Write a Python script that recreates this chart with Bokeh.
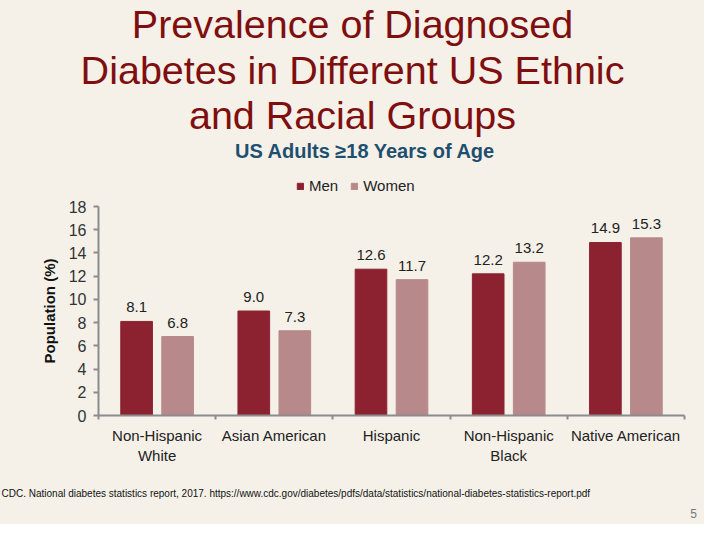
import numpy as np
from bokeh.plotting import figure
from bokeh.layouts import column
from bokeh.models import (Range1d, FixedTicker, Legend, LegendItem,
                          ColumnDataSource)
from bokeh.embed import file_html
from bokeh.resources import INLINE

# ---------------- data ----------------
categories = ["Non-Hispanic\nWhite", "Asian American", "Hispanic",
              "Non-Hispanic\nBlack", "Native American"]
men = [8.1, 9.0, 12.6, 12.2, 14.9]
women = [6.8, 7.3, 11.7, 13.2, 15.3]
y_ticks = [0, 2, 4, 6, 8, 10, 12, 14, 16, 18]
series_names = ["Men", "Women"]

title_lines = ["Prevalence of Diagnosed", "Diabetes in Different US Ethnic",
               "and Racial Groups"]
subtitle = "US Adults \u226518 Years of Age"
footer = ("CDC. National diabetes statistics report, 2017. "
          "https://www.cdc.gov/diabetes/pdfs/data/statistics/national-diabetes-statistics-report.pdf")
page_no = "5"

# ---------------- style / layout ----------------
MEN_C = "#8C2230"
WOMEN_C = "#B8898B"
TITLE_C = "#7F0F0F"
SUB_C = "#1F4F6E"
BG = "#F5F1E9"
FONT = "Liberation Sans"
W = 704

TOP0, TOP1 = 8, 205
MID1 = 482
BOT1 = 532
FX0, FX1, FY0, FY1 = 106, 692, 423, 214


def band(y0, y1):
    f = figure(width=W, height=y1 - y0, output_backend="svg", toolbar_location=None,
               x_range=Range1d(8, 8 + W), y_range=Range1d(y1, y0),
               x_axis_type=None, y_axis_type=None,
               min_border_left=0, min_border_right=0, min_border_top=0,
               min_border_bottom=0)
    f.background_fill_color = BG
    f.border_fill_color = BG
    f.outline_line_color = None
    f.grid.grid_line_color = None
    return f


# ---------- header ----------
top = band(TOP0, TOP1)
top.text(x=[360] * 3, y=[31, 77, 122], text=title_lines, text_align="center",
         text_baseline="alphabetic", text_font={"value": FONT},
         text_font_size="39.5px", text_color=TITLE_C)
top.text(x=[373], y=[158.5], text=[subtitle], text_align="center",
         text_baseline="alphabetic", text_font={"value": FONT},
         text_font_style="bold", text_font_size="20px", text_color=SUB_C)
# legend swatches (renderers hold no drawable point; they only feed the legend)
lm = top.rect(x=[np.nan], y=[np.nan], width=1, height=1, color=MEN_C)
lw = top.rect(x=[np.nan], y=[np.nan], width=1, height=1, color=WOMEN_C)
legend = Legend(items=[LegendItem(label=series_names[0], renderers=[lm]),
                       LegendItem(label=series_names[1], renderers=[lw])],
                orientation="horizontal", location=(296, 3),
                background_fill_alpha=0, border_line_color=None,
                padding=0, margin=0, spacing=12, glyph_width=8, glyph_height=8,
                label_standoff=5, label_text_font=FONT, label_text_font_size="15px",
                label_text_color="#222222", label_height=16)
top.add_layout(legend, "center")

# ---------- chart ----------
p = figure(width=W, height=MID1 - TOP1, output_backend="svg", toolbar_location=None,
           x_range=Range1d(0, len(categories)), y_range=Range1d(0, 18),
           min_border_left=FX0 - 8, min_border_right=(8 + W) - FX1,
           min_border_top=FY1 - TOP1, min_border_bottom=MID1 - FY0)
p.background_fill_color = BG
p.border_fill_color = BG
p.outline_line_color = None
p.xgrid.grid_line_color = None
p.ygrid.grid_line_color = None

centers = np.arange(len(categories)) + 0.5
bw = 0.27
off = 0.175
src = ColumnDataSource(dict(xm=centers - off, xw=centers + off, men=men, women=women,
                            lm=[f"{v:.1f}" for v in men], lw=[f"{v:.1f}" for v in women]))

p.vbar(x="xm", top="men", width=bw, bottom=0, color=MEN_C, source=src)
p.vbar(x="xw", top="women", width=bw, bottom=0, color=WOMEN_C, source=src)
for xc, yc, tc in (("xm", "men", "lm"), ("xw", "women", "lw")):
    p.text(x=xc, y=yc, text=tc, source=src, text_align="center",
           text_baseline="bottom", y_offset=-9, text_font_size="15px",
           text_color="#222222", text_font={"value": FONT})

xa = p.xaxis[0]
xa.ticker = FixedTicker(ticks=list(centers), minor_ticks=list(range(len(categories) + 1)))
xa.major_label_overrides = {float(c): lab for c, lab in zip(centers, categories)}
xa.major_tick_line_color = None
xa.minor_tick_line_color = "#8C8C8C"
xa.minor_tick_line_width = 2
xa.minor_tick_out = 4
xa.minor_tick_in = 0
xa.axis_line_color = "#8C8C8C"
xa.axis_line_width = 2
xa.major_label_text_font = FONT
xa.major_label_text_font_size = "15px"
xa.major_label_text_color = "#222222"
xa.major_label_standoff = 5

ya = p.yaxis[0]
ya.ticker = FixedTicker(ticks=y_ticks)
ya.axis_line_color = "#8C8C8C"
ya.axis_line_width = 2
ya.major_tick_line_color = "#8C8C8C"
ya.major_tick_line_width = 2
ya.major_tick_out = 5
ya.major_tick_in = 0
ya.minor_tick_line_color = None
ya.major_label_text_font = FONT
ya.major_label_text_font_size = "16px"
ya.major_label_text_color = "#333333"
ya.major_label_standoff = 7
ya.axis_label = "Population (%)"
ya.axis_label_text_font = FONT
ya.axis_label_text_font_style = "bold"
ya.axis_label_text_font_size = "15px"
ya.axis_label_text_color = "#111111"
ya.axis_label_standoff = 8

# ---------- footer ----------
bot = band(MID1, BOT1)
bot.text(x=[9], y=[501], text=[footer], text_align="left",
         text_baseline="alphabetic", text_font={"value": FONT},
         text_font_size="10px", text_color="#111111")
bot.text(x=[701], y=[521], text=[page_no], text_align="center",
         text_baseline="alphabetic", text_font={"value": FONT},
         text_font_size="12px", text_color="#777777")

layout = column(column(top), column(p), column(bot), spacing=0,
                styles={"background-color": BG})
open("out.html", "w").write(file_html(layout, INLINE))
